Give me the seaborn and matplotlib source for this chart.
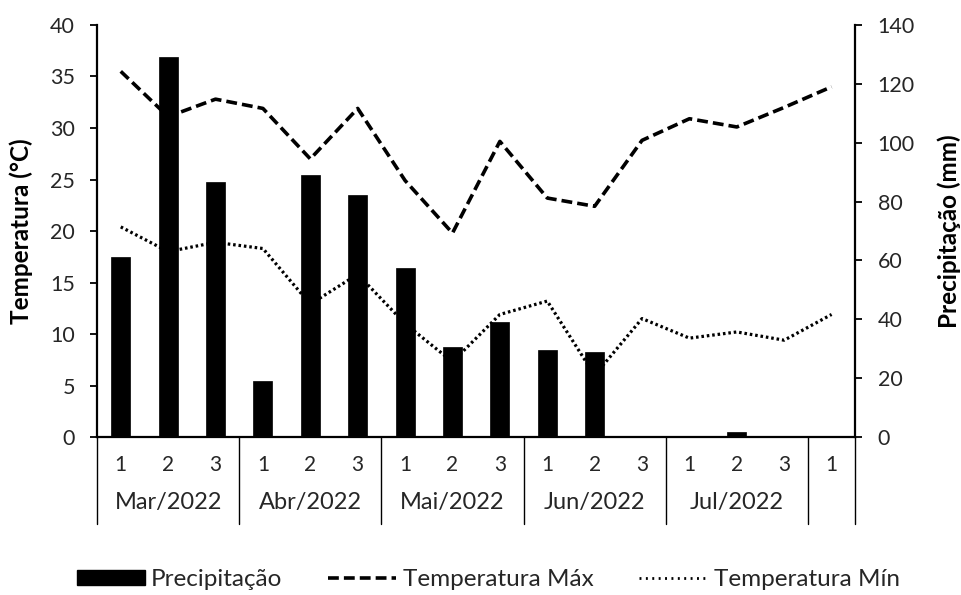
import matplotlib
matplotlib.use("Agg")
import matplotlib.pyplot as plt
import matplotlib.transforms as mtransforms
from matplotlib.lines import Line2D
from matplotlib.patches import Patch
import seaborn as sns
import pandas as pd

# ---- data ----
decendios = ["1", "2", "3", "1", "2", "3", "1", "2", "3", "1", "2", "3", "1", "2", "3", "1"]
meses = ["Mar/2022", "Abr/2022", "Mai/2022", "Jun/2022", "Jul/2022", ""]
meses_n = [3, 3, 3, 3, 3, 1]
precipitacao = [61.3, 129.0, 86.5, 19.0, 89.1, 82.3, 57.3, 30.7, 39.0, 29.5, 29.0, 0.0, 0.0, 1.8, 0.0, 0.0]
temp_max = [35.5, 31.1, 32.8, 31.9, 27.0, 31.9, 24.9, 19.8, 28.7, 23.2, 22.4, 28.8, 30.9, 30.1, 32.0, 34.0]
temp_min = [20.4, 18.0, 18.9, 18.3, 12.9, 15.8, 11.0, 7.3, 11.9, 13.2, 6.0, 11.5, 9.6, 10.2, 9.4, 11.9]

sns.set_theme(style="white")
plt.rcParams["font.family"] = ["Lato", "DejaVu Sans"]

df = pd.DataFrame({
    "idx": list(range(len(decendios))),
    "prec": precipitacao,
    "tmax": temp_max,
    "tmin": temp_min,
})

DASH = (0, (3.0, 1.4))
DOT = (0, (0.8, 0.9))

fig = plt.figure(figsize=(9.61, 5.95), dpi=100)
ax = fig.add_axes([0.101, 0.2655, 0.789, 0.6925])
ax2 = ax.twinx()

# bars on right axis
sns.barplot(data=df, x="idx", y="prec", ax=ax2, color="black", width=0.4,
            saturation=1, edgecolor="black", linewidth=0.5)

# lines on left axis
sns.lineplot(data=df, x="idx", y="tmax", ax=ax, color="black", linewidth=2.6,
             linestyle=DASH)
sns.lineplot(data=df, x="idx", y="tmin", ax=ax, color="black", linewidth=2.3,
             linestyle=DOT, dash_capstyle="butt")

n = len(decendios)
ax.set_xlim(-0.5, n - 0.5)
ax2.set_xlim(-0.5, n - 0.5)
ax.set_ylim(0, 40)
ax2.set_ylim(0, 140)
ax.set_yticks(range(0, 41, 5))
ax2.set_yticks(range(0, 141, 20))

tc = "#262626"
ax.tick_params(axis="y", direction="out", length=5, width=1.3, labelsize=15.5, colors="black",
               labelcolor=tc, left=True, pad=11)
ax2.tick_params(axis="y", direction="out", length=5, width=1.3, labelsize=15.5, colors="black",
                labelcolor=tc, right=True, pad=11)
ax.set_xticks(range(n))
ax.set_xticklabels(decendios)
ax.tick_params(axis="x", length=0, pad=13, labelsize=15, colors=tc)
ax2.set_xlabel("")
ax.set_xlabel("")

for a in (ax, ax2):
    for s in a.spines.values():
        s.set_visible(False)
for a, side in ((ax, "left"), (ax, "bottom"), (ax2, "right")):
    a.spines[side].set_visible(True)
    a.spines[side].set_color("black")
    a.spines[side].set_linewidth(1.6)

ax.set_ylabel("Temperatura (°C)", fontsize=17.5, fontweight="bold", color="black")
ax2.set_ylabel("Precipitação (mm)", fontsize=17.5, fontweight="bold", color="black")
ax.yaxis.set_label_coords(-0.0844, 0.5)
ax2.yaxis.set_label_coords(1.108, 0.5)

# month labels and separators
trans = mtransforms.blended_transform_factory(ax.transData, ax.transAxes)
start = -0.5
bounds = [start]
for m, k in zip(meses, meses_n):
    center = start + k / 2
    ax.text(center, -0.158, m, transform=trans, ha="center", va="center", fontsize=17, color=tc)
    start += k
    bounds.append(start)
for b in bounds:
    ax.add_line(Line2D([b, b], [0, -0.21], transform=trans, color="black", linewidth=1.0, clip_on=False))

handles = [
    Patch(facecolor="black", edgecolor="black", label="Precipitação"),
    Line2D([0], [0], color="black", linewidth=2.6, linestyle=DASH, label="Temperatura Máx"),
    Line2D([0], [0], color="black", linewidth=2.0, linestyle=(0, (0.7, 1.6)), label="Temperatura Mín"),
]
fig.legend(handles=handles, loc="center", bbox_to_anchor=(0.508, 0.026), ncol=3, frameon=False,
           fontsize=17.5, handlelength=2.8, handleheight=0.55, handletextpad=0.25, columnspacing=1.9,
           labelcolor=tc)

fig.savefig("out.png", dpi=100)
